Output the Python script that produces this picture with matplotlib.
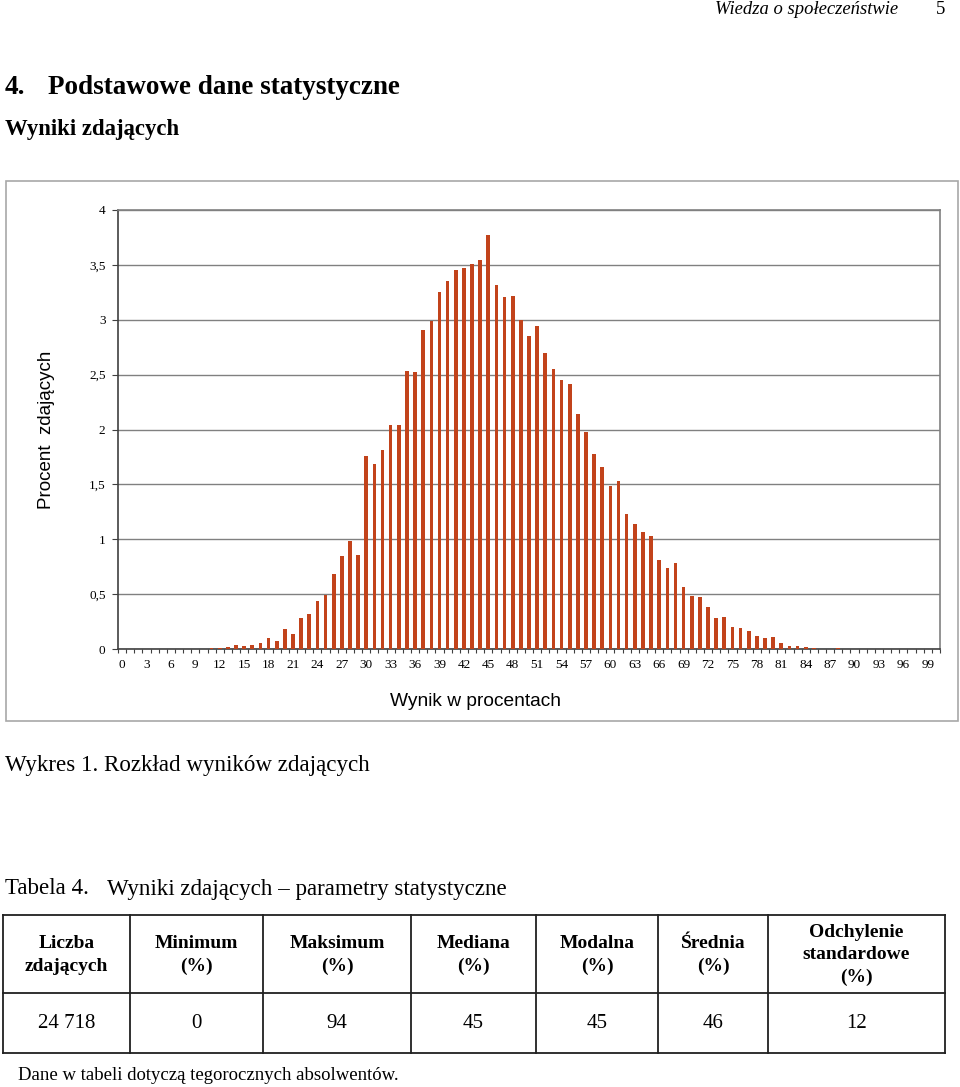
# -*- coding: utf-8 -*-
import matplotlib
matplotlib.use('Agg')
import matplotlib.pyplot as plt
from matplotlib.patches import Rectangle
from matplotlib.lines import Line2D

# dane: procent zdających dla każdego wyniku 0..100
scores = list(range(101))
percent = [0.004, 0, 0, 0, 0, 0.003, 0, 0, 0.004, 0.004, 0.004, 0.008, 0.01,
           0.02, 0.04, 0.03, 0.04, 0.055, 0.10, 0.07, 0.18, 0.14, 0.285, 0.32,
           0.44, 0.495, 0.68, 0.85, 0.98, 0.855, 1.76, 1.69, 1.81, 2.045, 2.045,
           2.53, 2.52, 2.91, 2.99, 3.255, 3.355, 3.455, 3.475, 3.51, 3.545, 3.77,
           3.32, 3.205, 3.215, 3.0, 2.856, 2.94, 2.698, 2.552, 2.449, 2.419, 2.145,
           1.981, 1.777, 1.658, 1.485, 1.53, 1.232, 1.141, 1.065, 1.028, 0.807,
           0.734, 0.785, 0.563, 0.485, 0.47, 0.387, 0.28, 0.29, 0.204, 0.189,
           0.162, 0.119, 0.104, 0.11, 0.058, 0.03, 0.03, 0.015, 0.009, 0.004,
           0.003, 0.009, 0.002, 0.002, 0.001, 0, 0, 0.001, 0, 0, 0, 0, 0, 0]
xtick_vals = list(range(0, 100, 3))
ytick_vals = [0, 0.5, 1, 1.5, 2, 2.5, 3, 3.5, 4]
ytick_labels = ['0', '0,5', '1', '1,5', '2', '2,5', '3', '3,5', '4']

table_header = ['Liczba\nzdających', 'Minimum\n(%)', 'Maksimum\n(%)', 'Mediana\n(%)',
                'Modalna\n(%)', 'Średnia\n(%)', 'Odchylenie\nstandardowe\n(%)']
table_values = ['24 718', '0', '94', '45', '45', '46', '12']

W, H = 960, 1087
SERIF = 'Liberation Serif'
SANS = 'Liberation Sans'
plt.rcParams['font.family'] = SERIF

fig = plt.figure(figsize=(W / 100, H / 100), dpi=100)


def fx(px):
    return px / W


def fy(py):
    return 1 - py / H


# tekst strony
fig.text(fx(898), fy(9), 'Wiedza o społeczeństwie', style='italic', fontsize=13.4,
         ha='right', va='center')
fig.text(fx(945), fy(9), '5', fontsize=13.4, ha='right', va='center')
fig.text(fx(5), fy(88), '4.', fontsize=19.5, fontweight='bold', ha='left', va='center')
fig.text(fx(48), fy(88), 'Podstawowe dane statystyczne', fontsize=19.5, fontweight='bold',
         ha='left', va='center')
fig.text(fx(5), fy(129), 'Wyniki zdających', fontsize=16.4, fontweight='bold',
         ha='left', va='center')

# ramka wykresu
fig.patches.append(Rectangle((fx(6), fy(721)), fx(958) - fx(6), fy(181) - fy(721),
                             transform=fig.transFigure, fill=False,
                             edgecolor='#A8A8A8', linewidth=1.2))

ax = fig.add_axes([fx(118), fy(649), fx(940) - fx(118), fy(210) - fy(649)])
ax.bar(scores, percent, width=0.45, color='#C2431B', zorder=3)
ax.set_xlim(-0.5, 100.5)
ax.set_ylim(0, 4)
ax.set_yticks(ytick_vals)
ax.set_yticklabels(ytick_labels, fontsize=9.5)
ax.set_xticks(xtick_vals)
ax.set_xticklabels([str(v) for v in xtick_vals], fontsize=9.5)
ax.set_xticks([s - 0.5 for s in scores] + [100.5], minor=True)
ax.tick_params(axis='x', which='major', length=0, pad=7)
ax.tick_params(axis='x', which='minor', length=3, width=0.8, color='#404040', direction='out')
ax.tick_params(axis='y', length=4, width=0.8, color='#404040', pad=5)
ax.grid(axis='y', color='#808080', linewidth=1, zorder=0)
ax.set_axisbelow(True)
ax.spines['left'].set_color('#404040')
ax.spines['bottom'].set_color('#404040')
ax.spines['top'].set_color('#808080')
ax.spines['right'].set_color('#808080')
for sp in ax.spines.values():
    sp.set_linewidth(1.2)

fig.text(fx(47), fy(430), 'Procent  zdających', family=SANS, fontsize=13.5,
         rotation=90, ha='center', va='center')
fig.text(fx(476), fy(701), 'Wynik w procentach', family=SANS, fontsize=13.8,
         ha='center', va='center')

fig.text(fx(5), fy(765), 'Wykres 1. Rozkład wyników zdających', fontsize=16.6,
         ha='left', va='center')
fig.text(fx(5), fy(889), 'Tabela 4.', fontsize=16.6, ha='left', va='center')
fig.text(fx(107), fy(889), 'Wyniki zdających – parametry statystyczne', fontsize=16.6,
         ha='left', va='center')

# tabela
col_edges = [3, 130, 263, 411, 536, 658, 768, 945]
row_edges = [915, 993, 1053]
for y in row_edges:
    fig.lines.append(Line2D([fx(col_edges[0]), fx(col_edges[-1])], [fy(y), fy(y)],
                            transform=fig.transFigure, color='#202020', linewidth=1.3))
for x in col_edges:
    fig.lines.append(Line2D([fx(x), fx(x)], [fy(row_edges[0]), fy(row_edges[-1])],
                            transform=fig.transFigure, color='#202020', linewidth=1.3))
for i in range(len(table_header)):
    cx = (col_edges[i] + col_edges[i + 1]) / 2
    fig.text(fx(cx), fy(955), table_header[i], fontsize=14, fontweight='bold',
             ha='center', va='center', linespacing=1.4, multialignment='center')
    fig.text(fx(cx), fy(1023), table_values[i], fontsize=15, ha='center', va='center')

fig.text(fx(18), fy(1075), 'Dane w tabeli dotyczą tegorocznych absolwentów.', fontsize=13.5,
         ha='left', va='center')

plt.savefig('out.png', dpi=100)
